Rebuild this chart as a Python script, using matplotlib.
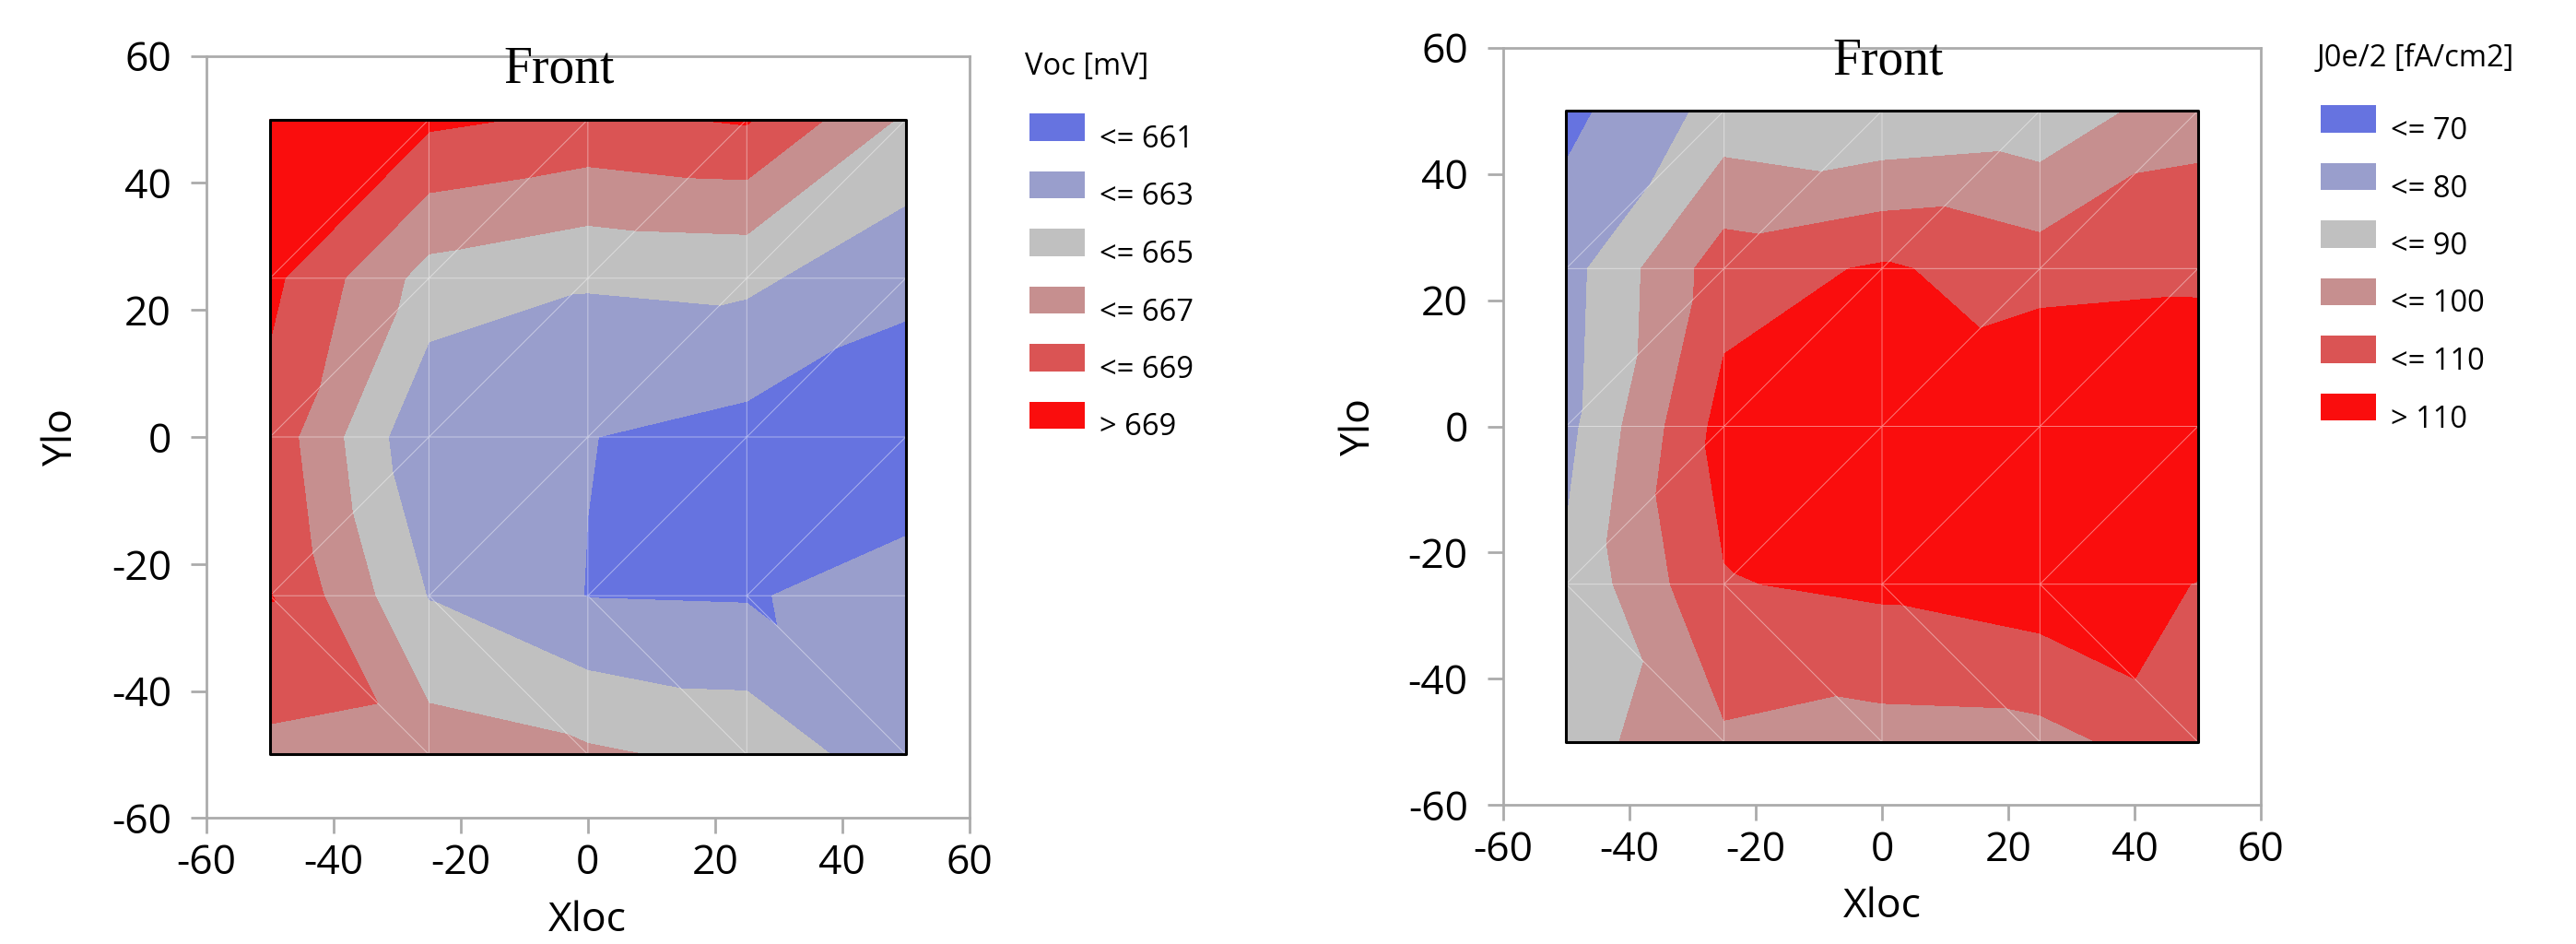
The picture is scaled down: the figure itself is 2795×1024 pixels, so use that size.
import numpy as np
import matplotlib
matplotlib.use("Agg")
import matplotlib.pyplot as plt
import matplotlib.tri as mtri
from matplotlib.patches import Rectangle

plt.rcParams['font.family'] = ['Open Sans', 'DejaVu Sans']
plt.rcParams['axes.unicode_minus'] = False

# measurement grid (mm)
x_loc = [-50, -25, 0, 25, 50]
y_loc = [-50, -25, 0, 25, 50]

# Voc [mV], one row per y position, from y=-50 up to y=50
voc = [
    [666.5, 666.0, 665.3, 664.45, 661.7],
    [669.1, 662.9, 660.95, 660.83, 661.9],
    [668.25, 661.2, 661.05, 660.3, 659.5],
    [669.5, 664.2, 663.2, 663.4, 661.55],
    [671.0, 669.4, 668.6, 669.2, 664.7],
]

# J0e/2 [fA/cm2], same layout
j0e = [
    [85.7, 98.5, 96.1, 96.7, 106.0],
    [81.8, 109.4, 112.0, 116.0, 109.7],
    [77.0, 113.8, 118.0, 124.5, 124.0],
    [76.0, 105.5, 111.2, 105.1, 106.8],
    [67.2, 83.5, 80.2, 82.6, 96.6],
]

voc_levels = [661, 663, 665, 667, 669]
voc_labels = ['<= 661', '<= 663', '<= 665', '<= 667', '<= 669', '> 669']
j0e_levels = [70, 80, 90, 100, 110]
j0e_labels = ['<= 70', '<= 80', '<= 90', '<= 100', '<= 110', '> 110']

colors = ['#6673E0', '#999ECC', '#C0C0C0', '#C68F8F', '#DA5454', '#FA0D0D']
spine_col = '#ABABAB'
W, H = 2795, 1024

# triangulation of the grid: bottom row of cells split "\", the rest "/"
nx, ny = len(x_loc), len(y_loc)
gx, gy = np.meshgrid(x_loc, y_loc)
triangles = []
for j in range(ny - 1):
    for i in range(nx - 1):
        p00 = j * nx + i
        p10 = p00 + 1
        p01 = p00 + nx
        p11 = p01 + 1
        if j == 0:
            triangles += [[p00, p10, p01], [p10, p11, p01]]
        else:
            triangles += [[p00, p10, p11], [p00, p11, p01]]
tri = mtri.Triangulation(gx.ravel(), gy.ravel(), triangles)


def draw_map(ax, values, levels, labels, title, title_x):
    z = np.array(values).ravel()
    lv = [z.min() - 1] + levels + [z.max() + 1]
    ax.tricontourf(tri, z, levels=lv, colors=colors)
    ax.triplot(tri, color='white', lw=0.7, alpha=0.45)
    ax.add_patch(Rectangle((-50, -50), 100, 100, fill=False, ec='black',
                           lw=2.2, joinstyle='round', zorder=5))
    ax.set_xlim(-60, 60)
    ax.set_ylim(-60, 60)
    ax.set_xticks(range(-60, 61, 20))
    ax.set_yticks(range(-60, 61, 20))
    for s in ax.spines.values():
        s.set_color(spine_col)
        s.set_linewidth(2)
    ax.tick_params(labelsize=32, length=12.3, width=2, color=spine_col)
    ax.tick_params(axis='x', pad=7)
    ax.tick_params(axis='y', pad=15)
    ax.set_xlabel('Xloc', fontsize=32)
    ax.set_ylabel('Ylo', fontsize=32)
    ax.xaxis.set_label_coords(0.5, -0.135)
    ax.xaxis.label.set_va('center')
    ax.yaxis.set_label_coords(-0.19, 0.5)
    ax.yaxis.label.set_va('center')
    ax.text(title_x, 55.75, title, fontfamily='Liberation Serif', fontsize=40,
            ha='center', va='baseline', zorder=6)

    # legend drawn beside the axes, in figure pixels
    pos = ax.get_position()
    right = pos.x1 * W
    top = (1 - pos.y1) * H
    fig.text((right + 60) / W, 1 - (top + 20) / H, legend_titles[ax], fontsize=23.5,
             ha='left', va='baseline')
    for k, lab in enumerate(labels):
        cy = top + 77.3 + 62.5 * k
        fig.patches.append(Rectangle(((right + 65) / W, 1 - (cy + 14.75) / H),
                                     60 / W, 29.5 / H, transform=fig.transFigure,
                                     fc=colors[k], ec='none'))
        fig.text((right + 141) / W, 1 - (cy + 22) / H, lab, fontsize=23.5,
                 ha='left', va='baseline')


fig = plt.figure(figsize=(W / 100, H / 100), dpi=100)
ax1 = fig.add_axes([224 / W, (H - 887.3) / H, 827.7 / W, 826.6 / H])
ax2 = fig.add_axes([1630.7 / W, (H - 873.3) / H, 822.6 / W, 821.6 / H])
legend_titles = {ax1: 'Voc [mV]', ax2: 'J0e/2 [fA/cm2]'}

draw_map(ax1, voc, voc_levels, voc_labels, 'Front', -4.5)
draw_map(ax2, j0e, j0e_levels, j0e_labels, 'Front', 1.0)

fig.savefig('out.png', dpi=100)
